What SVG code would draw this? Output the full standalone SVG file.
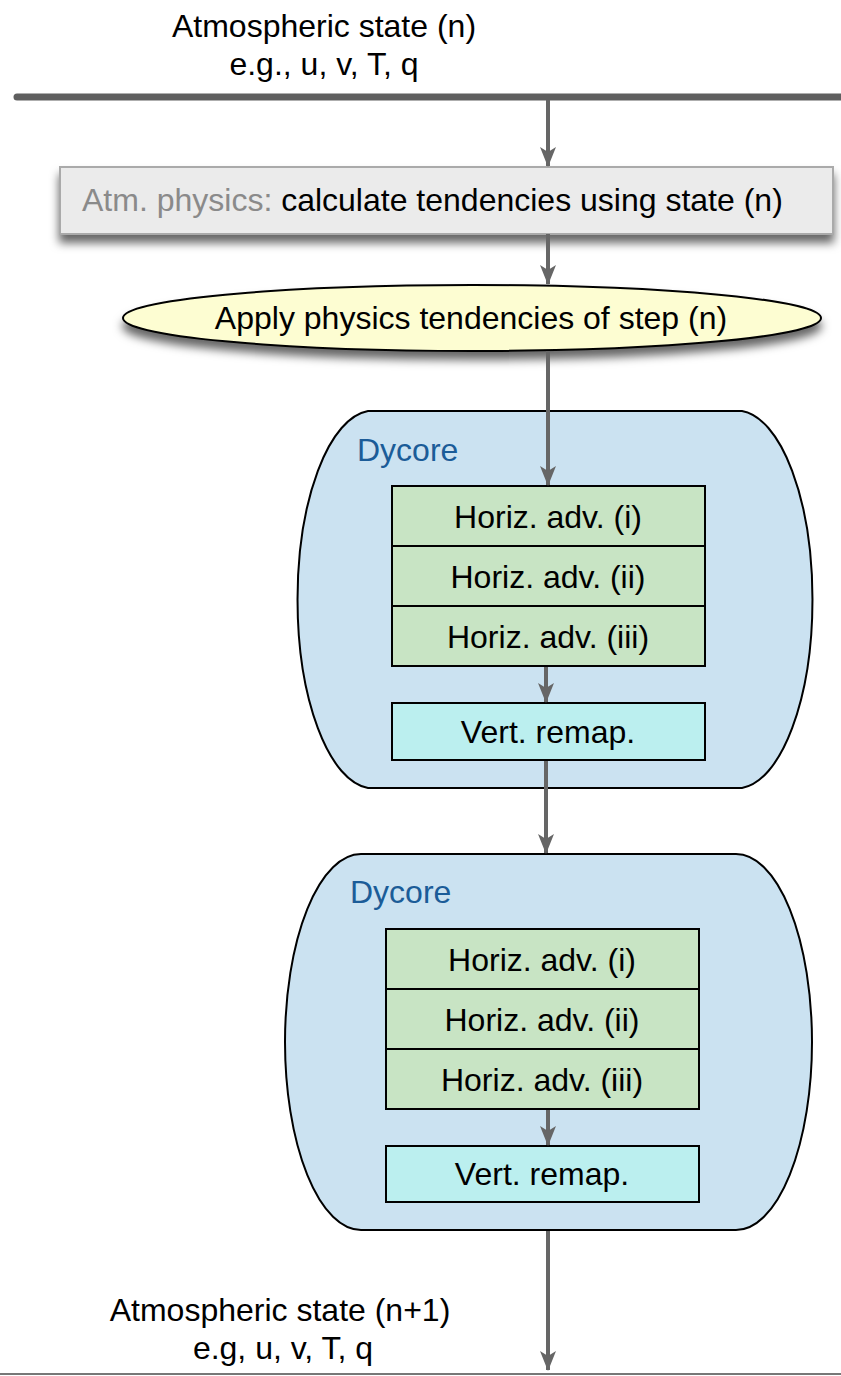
<svg xmlns="http://www.w3.org/2000/svg" width="841" height="1376" viewBox="0 0 841 1376">
<defs>
<filter id="shadow" x="-10%" y="-30%" width="120%" height="180%">
<feDropShadow dx="0" dy="8" stdDeviation="5" flood-color="#000" flood-opacity="0.6"/>
</filter>
<marker id="arr" viewBox="0 0 20 16" refX="19" refY="8" markerWidth="20" markerHeight="16" markerUnits="userSpaceOnUse" orient="auto">
<path d="M0,0 L20,8 L0,16 L5,8 Z" fill="#666"/>
</marker>
<style>
text{font-family:"Liberation Sans",Arial,sans-serif;font-size:32px;fill:#000}
.c{text-anchor:middle}
.dy{fill:#1b5c98}
.grn{fill:#c8e4c4;stroke:#000;stroke-width:2}
.cyan{fill:#bbefef;stroke:#000;stroke-width:2}
.dyc{fill:#cbe2f1;stroke:#000;stroke-width:2}
.conn{stroke:#666;stroke-width:4;fill:none}
</style>
</defs>
<rect width="841" height="1376" fill="#fff"/>
<g id="state-n">
<text class="c" x="324" y="37">Atmospheric state (n)</text>
<text class="c" x="324" y="75">e.g., u, v, T, q</text>
<line x1="17" y1="97" x2="841" y2="97" stroke="#5f5f5f" stroke-width="7" stroke-linecap="round"/>
</g>
<g id="physics">
<rect x="60" y="167" width="773" height="67" fill="#ebebeb" stroke="#aaa" stroke-width="2" filter="url(#shadow)"/>
<text x="82" y="211"><tspan fill="#8a8a8a">Atm. physics:</tspan> calculate tendencies using state (n)</text>
</g>
<g id="apply">
<ellipse cx="472" cy="318" rx="349" ry="33" fill="#fdfdd2" stroke="#000" stroke-width="2" filter="url(#shadow)"/>
<text class="c" x="471" y="329">Apply physics tendencies of step (n)</text>
</g>
<g id="dycore1">
<path class="dyc" d="M368,411 H742 A76,189 0 0 1 742,788 H368 A76,189 0 0 1 368,411 Z"/>
<text class="dy" x="357" y="461">Dycore</text>
<rect class="grn" x="392" y="486" width="313" height="60"/>
<rect class="grn" x="392" y="546" width="313" height="60"/>
<rect class="grn" x="392" y="606" width="313" height="60"/>
<text class="c" x="548" y="528">Horiz. adv. (i)</text>
<text class="c" x="548" y="588">Horiz. adv. (ii)</text>
<text class="c" x="548" y="648">Horiz. adv. (iii)</text>
<rect class="cyan" x="392" y="703" width="313" height="57"/>
<text class="c" x="548" y="743">Vert. remap.</text>
</g>
<g id="dycore2">
<path class="dyc" d="M361,854 H736 A76,188 0 0 1 736,1230 H361 A76,188 0 0 1 361,854 Z"/>
<text class="dy" x="350" y="903">Dycore</text>
<rect class="grn" x="386" y="929" width="313" height="60"/>
<rect class="grn" x="386" y="989" width="313" height="60"/>
<rect class="grn" x="386" y="1049" width="313" height="60"/>
<text class="c" x="542" y="971">Horiz. adv. (i)</text>
<text class="c" x="542" y="1031">Horiz. adv. (ii)</text>
<text class="c" x="542" y="1091">Horiz. adv. (iii)</text>
<rect class="cyan" x="386" y="1146" width="313" height="56"/>
<text class="c" x="542" y="1185">Vert. remap.</text>
</g>
<g id="state-n1">
<text class="c" x="280" y="1321">Atmospheric state (n+1)</text>
<text class="c" x="283" y="1359">e.g, u, v, T, q</text>
<line x1="0" y1="1374" x2="841" y2="1374" stroke="#777" stroke-width="2"/>
</g>
<g id="connectors">
<line class="conn" x1="548" y1="100" x2="548" y2="166" marker-end="url(#arr)"/>
<line class="conn" x1="548" y1="234" x2="548" y2="284" marker-end="url(#arr)"/>
<line class="conn" x1="548" y1="351" x2="548" y2="485" marker-end="url(#arr)"/>
<line class="conn" x1="546" y1="667" x2="546" y2="702" marker-end="url(#arr)"/>
<line class="conn" x1="546" y1="761" x2="546" y2="853" marker-end="url(#arr)"/>
<line class="conn" x1="548" y1="1110" x2="548" y2="1145" marker-end="url(#arr)"/>
<line class="conn" x1="548" y1="1231" x2="548" y2="1370" marker-end="url(#arr)"/>
</g>
</svg>
